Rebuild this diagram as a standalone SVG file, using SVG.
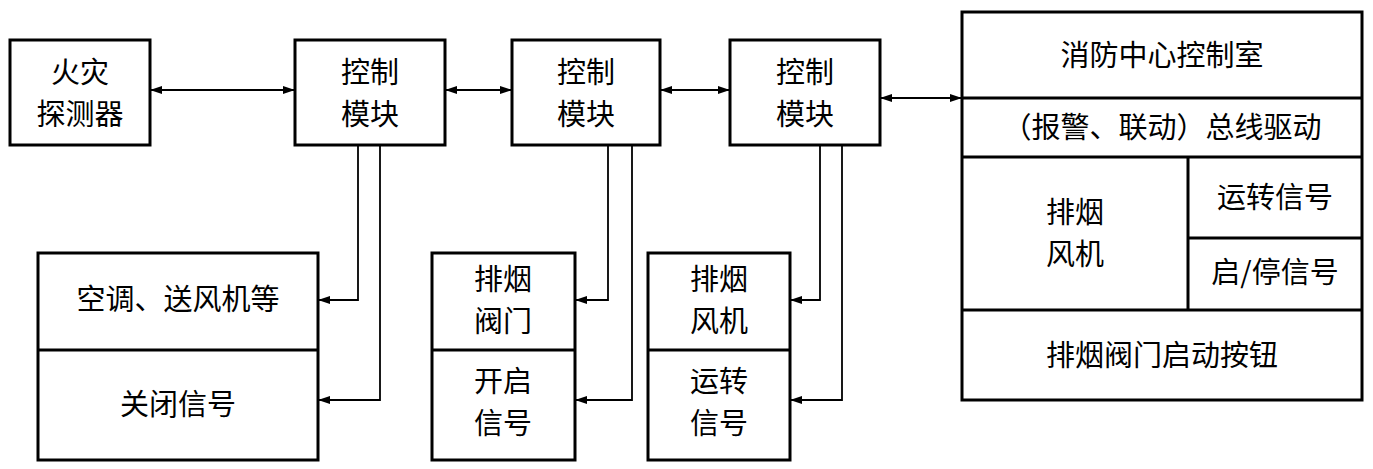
<svg xmlns="http://www.w3.org/2000/svg" width="1373" height="469" viewBox="0 0 1373 469">
<defs><marker id="a" markerWidth="12" markerHeight="8" refX="12" refY="4" orient="auto-start-reverse" markerUnits="userSpaceOnUse"><path d="M0,0 L12,4 L0,8 Z" fill="#000"/></marker></defs>
<style>.b,.l{fill:none;stroke:#000;stroke-width:3}.c{fill:none;stroke:#000;stroke-width:1.8}text{font-family:"Noto Sans CJK SC",sans-serif;font-size:29px;text-anchor:middle;fill:#000}</style>
<rect width="1373" height="469" fill="#fff"/>
<g id="detector"><rect class="b" x="10" y="40" width="140" height="105"/><text x="80" y="83">火灾</text><text x="80" y="125">探测器</text></g>
<g id="cm1"><rect class="b" x="295" y="40" width="150" height="105"/><text x="370" y="83">控制</text><text x="370" y="125">模块</text></g>
<g id="cm2"><rect class="b" x="512" y="40" width="148" height="105"/><text x="586" y="83">控制</text><text x="586" y="125">模块</text></g>
<g id="cm3"><rect class="b" x="730" y="40" width="150" height="105"/><text x="805" y="83">控制</text><text x="805" y="125">模块</text></g>
<g id="center"><rect class="b" x="962" y="12" width="400" height="388"/><path class="l" d="M962 98H1362M962 157H1362M962 310H1362M1188 157V310M1188 238H1362"/>
<text x="1162" y="66">消防中心控制室</text><text x="1162" y="138">（报警、联动）总线驱动</text>
<text x="1075" y="223">排烟</text><text x="1075" y="265">风机</text><text x="1275" y="208">运转信号</text><text x="1275" y="283">启/停信号</text><text x="1162" y="366">排烟阀门启动按钮</text></g>
<g id="ac"><rect class="b" x="38" y="253" width="280" height="207"/><path class="l" d="M38 350H318"/><text x="178" y="310">空调、送风机等</text><text x="178" y="415">关闭信号</text></g>
<g id="valve"><rect class="b" x="432" y="253" width="143" height="207"/><path class="l" d="M432 350H575"/><text x="503" y="290">排烟</text><text x="503" y="332">阀门</text><text x="503" y="392">开启</text><text x="503" y="434">信号</text></g>
<g id="fan"><rect class="b" x="648" y="253" width="142" height="207"/><path class="l" d="M648 350H790"/><text x="719" y="290">排烟</text><text x="719" y="332">风机</text><text x="719" y="392">运转</text><text x="719" y="434">信号</text></g>
<g id="connectors">
<path class="c" d="M150 90H295" marker-start="url(#a)" marker-end="url(#a)"/>
<path class="c" d="M445 90H512" marker-start="url(#a)" marker-end="url(#a)"/>
<path class="c" d="M660 90H730" marker-start="url(#a)" marker-end="url(#a)"/>
<path class="c" d="M880 98H962" marker-start="url(#a)" marker-end="url(#a)"/>
<path class="c" d="M358 145V300H318" marker-end="url(#a)"/>
<path class="c" d="M380 145V400H318" marker-end="url(#a)"/>
<path class="c" d="M608 145V300H575" marker-end="url(#a)"/>
<path class="c" d="M632 145V400H575" marker-end="url(#a)"/>
<path class="c" d="M820 145V300H790" marker-end="url(#a)"/>
<path class="c" d="M842 145V400H790" marker-end="url(#a)"/>
</g>
</svg>
